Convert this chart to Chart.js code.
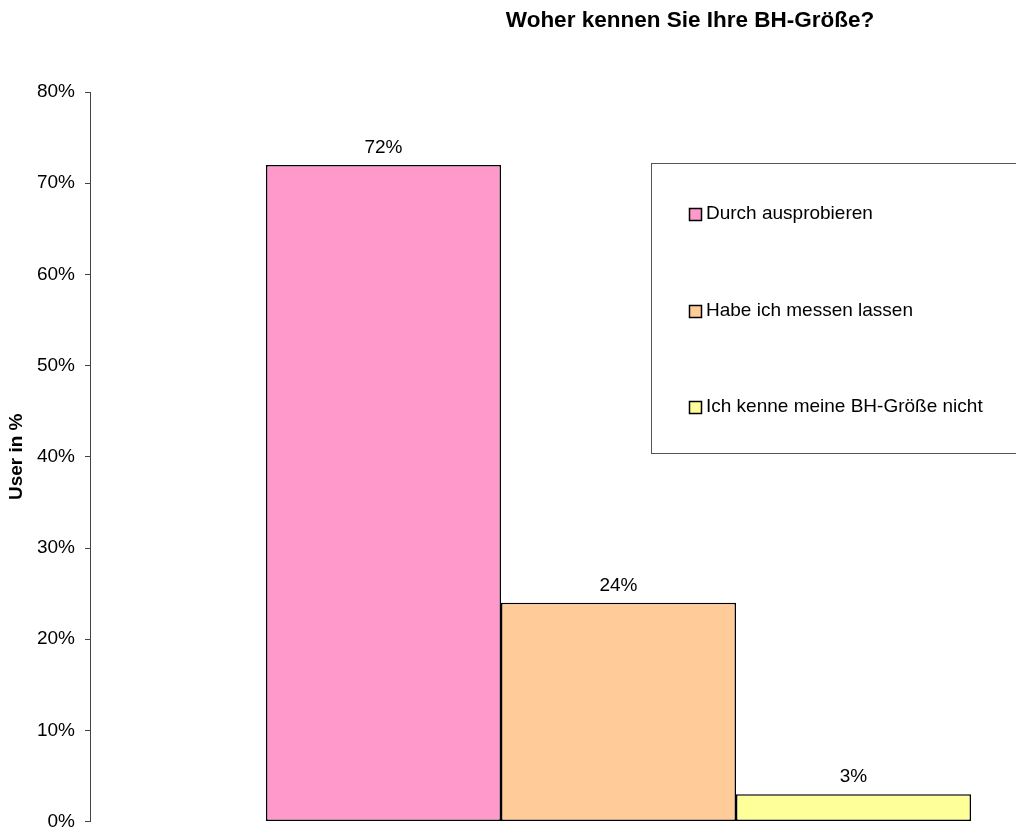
<!DOCTYPE html>
<html lang="de">
<head>
<meta charset="utf-8">
<title>Woher kennen Sie Ihre BH-Größe?</title>
<script src="https://cdn.jsdelivr.net/npm/chart.js@4/dist/chart.umd.min.js"></script>
<style>
  html, body { margin: 0; padding: 0; background: #fff; overflow: hidden; }
  #wrap { position: relative; width: 1147px; height: 843px; }
</style>
</head>
<body>
<div id="wrap"><canvas id="myChart"></canvas></div>
<script>
// survey answers, one bar each
const answers = ['Durch ausprobieren', 'Habe ich messen lassen', 'Ich kenne meine BH-Größe nicht'];
const percents = [72, 24, 3];
const barColors = ['#FF99CC', '#FFCC99', '#FFFF99'];
const yTicks = [0, 10, 20, 30, 40, 50, 60, 70, 80];

const fontFamily = '"Liberation Sans", Arial, Helvetica, sans-serif';

// title sits further right than the canvas centre
const titleShift = {
    id: 'titleShift',
    afterLayout(chart) {
        const t = chart.titleBlock;
        if (!t) return;
        const centre = chart.chartArea.left + 600;
        t.left = centre - 300;
        t.right = centre + 300;
    }
};

// percentage printed over every bar
const valueLabels = {
    id: 'valueLabels',
    afterDatasetsDraw(chart) {
        const ctx = chart.ctx;
        ctx.save();
        ctx.font = '19px ' + fontFamily;
        ctx.fillStyle = '#000';
        ctx.textAlign = 'center';
        ctx.textBaseline = 'alphabetic';
        chart.data.datasets.forEach((ds, i) => {
            chart.getDatasetMeta(i).data.forEach((bar, j) => {
                ctx.fillText(ds.data[j] + '%', bar.x, bar.y - 12);
            });
        });
        ctx.restore();
    }
};

// boxed legend sitting inside the plot, top right
const boxLegend = {
    id: 'boxLegend',
    afterDraw(chart) {
        const ctx = chart.ctx;
        const area = chart.chartArea;
        const left = area.left + 561;
        const top = 163;
        const bottom = 453;
        ctx.save();
        ctx.fillStyle = '#fff';
        ctx.fillRect(left, top, chart.width - left + 20, bottom - top);
        ctx.strokeStyle = '#555';
        ctx.lineWidth = 1;
        ctx.strokeRect(left + 0.5, top + 0.5, chart.width - left + 20, bottom - top);
        ctx.font = '19px ' + fontFamily;
        ctx.textBaseline = 'middle';
        ctx.textAlign = 'left';
        chart.data.datasets.forEach((ds, i) => {
            const y = 214 + i * 96.5;
            const sy = Math.round(y - 6);
            ctx.fillStyle = ds.backgroundColor;
            ctx.fillRect(left + 38, sy, 12, 12);
            ctx.strokeStyle = '#000';
            ctx.lineWidth = 1.5;
            ctx.strokeRect(left + 38.5, sy + 0.5, 12, 12);
            ctx.fillStyle = '#000';
            ctx.fillText(ds.label, left + 55, y);
        });
        ctx.restore();
    }
};

const datasets = answers.map((name, i) => ({
    label: name,
    data: [percents[i]],
    backgroundColor: barColors[i],
    borderColor: '#000',
    borderWidth: 1.5,
    borderSkipped: false,
    categoryPercentage: 0.667,
    barPercentage: 1.0
}));

const ctx = document.getElementById('myChart').getContext('2d');
const myChart = new Chart(ctx, {
    type: 'bar',
    data: {
        labels: [''],
        datasets: datasets
    },
    options: {
        responsive: true,
        maintainAspectRatio: false,
        animation: false,
        layout: { padding: { left: 0, right: 0, top: 0, bottom: 8 } },
        plugins: {
            legend: { display: false },
            tooltip: { enabled: false },
            title: {
                display: true,
                text: 'Woher kennen Sie Ihre BH-Größe?',
                color: '#000',
                font: { family: fontFamily, size: 22.5, weight: 'bold' },
                padding: { top: 7, bottom: 58 }
            }
        },
        scales: {
            x: {
                display: false
            },
            y: {
                min: 0,
                max: 80,
                afterBuildTicks(scale) {
                    scale.ticks = yTicks.map(v => ({ value: v }));
                },
                afterFit(scale) {
                    scale.width = 90;
                },
                ticks: {
                    color: '#000',
                    padding: 10,
                    font: { family: fontFamily, size: 19 },
                    callback: v => v + '%'
                },
                grid: {
                    drawOnChartArea: false,
                    drawTicks: true,
                    tickLength: 5,
                    color: '#444'
                },
                border: { display: true, color: '#444', width: 1 },
                title: {
                    display: true,
                    text: 'User in %',
                    color: '#000',
                    font: { family: fontFamily, size: 19, weight: 'bold' },
                    padding: { top: 5, bottom: 4 }
                }
            }
        }
    },
    plugins: [titleShift, valueLabels, boxLegend]
});
</script>
</body>
</html>
